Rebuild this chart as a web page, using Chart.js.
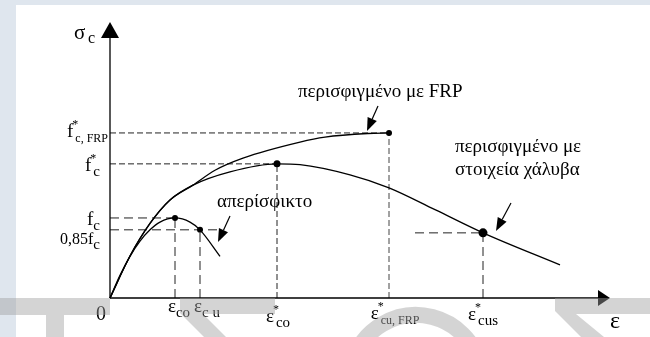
<!DOCTYPE html>
<html>
<head>
<meta charset="utf-8">
<script src="https://cdn.jsdelivr.net/npm/chart.js@4.4.0/dist/chart.umd.min.js"></script>
<style>
  html, body { margin: 0; padding: 0; background: #dfe6ee; }
  canvas { display: block; }
</style>
</head>
<body>
<canvas id="chart" width="650" height="337"></canvas>
<script>
// schematic stress-strain curves (strain ‰, stress MPa)
const unconfinedStrain = [0, 0.2, 0.4, 0.6, 0.8, 1.0, 1.3, 1.6, 1.8, 2.2];
const unconfinedStress = [0, 8.2, 15.1, 20.6, 24.7, 27.5, 29, 27.5, 24.7, 15.1];

const frpStrain = [0, 0.4, 0.8, 1.2, 1.66, 2.1, 2.66, 3.8, 4.3, 5.16, 5.58];
const frpStress = [0, 15.2, 27, 35.5, 40.9, 46.3, 50.7, 56.5, 58.3, 59.6, 59.8];

const steelStrain = [0, 0.4, 0.8, 1.2, 1.66, 2.4, 3.34, 3.8, 4.8, 5.58, 6.5, 7.46, 9.0];
const steelStress = [0, 15.2, 27, 35.5, 40.9, 45.7, 48.6, 48.3, 44.6, 39.9, 32.0, 23.6, 12.0];

// marked points (peaks / ultimate)
const markStrain = [1.3, 1.8, 3.34, 5.58, 7.46];
const markStress = [29, 24.7, 48.6, 59.8, 23.6];
// horizontal guides run from..to (strain) at the mark level
const guideFrom = [0, 0, 0, 0, 6.1];
const guideTo = [1.3, 2.16, 3.34, 5.58, 7.46];

const xTickValues = [0, 1.3, 1.8, 3.34, 5.58, 7.46];
const xTickLabels = ["0", "εco", "εc u", "ε*co", "ε*cu, FRP", "ε*cus"];
const yTickValues = [29, 24.7, 48.6, 59.8];
const yTickLabels = ["fc", "0,85fc", "f*c", "f*c, FRP"];

const notes = [
  { text: "περισφιγμένο με FRP", x: 3.76, y: 72.8 },
  { text: "περισφιγμένο με", x: 6.9, y: 52.9 },
  { text: "στοιχεία χάλυβα", x: 6.9, y: 44.6 },
  { text: "απερίσφικτο", x: 2.14, y: 33.0 },
];
const arrows = [
  { from: [5.36, 69.6], to: [5.14, 60.5] },
  { from: [2.4, 29.7], to: [2.16, 20.3] },
  { from: [8.02, 34.4], to: [7.72, 24.3] },
];

// label nudges in px: [dx, dy]
const xLabelNudge = [[-9, 22], [4, 14], [7, 14], [1, 24], [6, 21], [0, 22]];
const yLabelNudge = [[-10, 7], [-10, 14], [-10, 7], [-2, 4]];

const SERIF = "'Liberation Serif', 'Times New Roman', serif";

const pts = (xs, ys) => xs.map((x, i) => ({ x: x, y: ys[i] }));

const curveStyle = {
  type: "line",
  showLine: true,
  borderColor: "#000",
  borderWidth: 1.3,
  pointRadius: 0,
  cubicInterpolationMode: "monotone",
  fill: false,
  clip: false,
};

const datasets = [
  { ...curveStyle, data: pts(markStrain, markStress), showLine: false,
    pointRadius: [3, 3, 3.5, 3, 4.5], pointBackgroundColor: "#000", pointBorderWidth: 0 },
  { ...curveStyle, data: pts(unconfinedStrain, unconfinedStress) },
  { ...curveStyle, data: pts(frpStrain, frpStress) },
  { ...curveStyle, data: pts(steelStrain, steelStress) },
];

markStrain.forEach((s, i) => {
  const dash = i === 0 || i === 1 || i === 4 ? [9, 5] : [6, 3];
  datasets.push({ ...curveStyle, borderWidth: 1, borderColor: "#222", borderDash: dash,
    cubicInterpolationMode: "default", tension: 0,
    data: [{ x: guideFrom[i], y: markStress[i] }, { x: guideTo[i], y: markStress[i] }] });
  datasets.push({ ...curveStyle, borderWidth: 1, borderColor: i === 3 ? "#444" : "#222", borderDash: dash,
    cubicInterpolationMode: "default", tension: 0,
    data: [{ x: s, y: 0 }, { x: s, y: markStress[i] }] });
});

function splitLabel(str) {
  const m = str.match(/^(.*?[εfσ])(\*?)(.*)$/);
  if (!m) return { base: str, star: "", sub: "" };
  return { base: m[1], star: m[2], sub: m[3] };
}

function labelParts(str) {
  const p = splitLabel(str);
  const baseSize = p.base.length > 1 ? 16 : 19;
  const subSize = p.sub.length > 3 ? 12 : 15;
  return { p, baseSize, subSize };
}

function labelWidth(c, str) {
  const { p, baseSize, subSize } = labelParts(str);
  c.font = baseSize + "px " + SERIF;
  let w = c.measureText(p.base).width;
  if (p.star) w += 2;
  c.font = subSize + "px " + SERIF;
  return w + c.measureText(p.sub).width;
}

function drawLabel(c, str, x, y) {
  const { p, baseSize, subSize } = labelParts(str);
  c.font = baseSize + "px " + SERIF;
  c.fillText(p.base, x, y);
  x += c.measureText(p.base).width;
  if (p.star) {
    c.font = "12px " + SERIF;
    c.fillText("*", x - 1, y - 9);
    x += 2;
  }
  c.font = subSize + "px " + SERIF;
  c.fillText(p.sub, x, y + 5);
}

function arrow(c, x1, y1, x2, y2) {
  const a = Math.atan2(y2 - y1, x2 - x1);
  const len = 13, half = 5;
  const bx = x2 - len * Math.cos(a), by = y2 - len * Math.sin(a);
  c.beginPath();
  c.moveTo(x1, y1);
  c.lineTo(bx, by);
  c.stroke();
  c.beginPath();
  c.moveTo(x2, y2);
  c.lineTo(bx + half * Math.sin(a), by - half * Math.cos(a));
  c.lineTo(bx - half * Math.sin(a), by + half * Math.cos(a));
  c.closePath();
  c.fill();
}

const figure = {
  id: "figure",
  beforeDraw(chart) {
    const c = chart.ctx;
    c.save();
    c.fillStyle = "#dfe6ee";
    c.fillRect(0, 0, chart.width, chart.height);
    c.fillStyle = "#fff";
    c.fillRect(16, 5, chart.width - 16, chart.height - 5);
    c.restore();
  },
  afterDraw(chart) {
    const c = chart.ctx;
    const xs = chart.scales.x, ys = chart.scales.y;
    const x0 = xs.getPixelForValue(0), y0 = ys.getPixelForValue(0);
    const xEnd = xs.getPixelForValue(xs.max), yTop = ys.getPixelForValue(ys.max);
    c.save();
    c.fillStyle = "#000";
    c.strokeStyle = "#000";
    c.lineWidth = 1.3;

    // axes with arrow heads
    c.beginPath();
    c.moveTo(x0, y0);
    c.lineTo(x0, yTop + 16);
    c.moveTo(x0, y0);
    c.lineTo(xEnd - 12, y0);
    c.stroke();
    c.beginPath();
    c.moveTo(x0, yTop);
    c.lineTo(x0 - 9, yTop + 16);
    c.lineTo(x0 + 9, yTop + 16);
    c.closePath();
    c.fill();
    c.beginPath();
    c.moveTo(xEnd, y0);
    c.lineTo(xEnd - 12, y0 - 8);
    c.lineTo(xEnd - 12, y0 + 8);
    c.closePath();
    c.fill();

    // axis titles
    c.font = "21px " + SERIF;
    c.fillText("σ", x0 - 36, yTop + 17);
    c.font = "16px " + SERIF;
    c.fillText("c", x0 - 22, yTop + 21);
    c.font = "24px " + SERIF;
    c.fillText("ε", xEnd, y0 + 30);

    // tick labels
    xTickValues.forEach((v, i) => {
      const lab = xTickLabels[i];
      const px = xs.getPixelForValue(v) + xLabelNudge[i][0];
      if (lab === "0") {
        c.font = "20px " + SERIF;
        c.textAlign = "center";
        c.fillText(lab, px, y0 + xLabelNudge[i][1]);
        c.textAlign = "left";
      } else {
        const w = labelWidth(c, lab);
        drawLabel(c, lab, px - w / 2, y0 + xLabelNudge[i][1]);
      }
    });
    yTickValues.forEach((v, i) => {
      const w = labelWidth(c, yTickLabels[i]);
      const px = x0 + yLabelNudge[i][0];
      drawLabel(c, yTickLabels[i], px - w, ys.getPixelForValue(v) + yLabelNudge[i][1]);
    });

    // annotations
    c.font = "19px " + SERIF;
    notes.forEach(n => c.fillText(n.text, xs.getPixelForValue(n.x), ys.getPixelForValue(n.y)));
    c.lineWidth = 1.2;
    arrows.forEach(a => arrow(c,
      xs.getPixelForValue(a.from[0]), ys.getPixelForValue(a.from[1]),
      xs.getPixelForValue(a.to[0]), ys.getPixelForValue(a.to[1])));

    // faint watermark over the bottom strip
    c.fillStyle = "rgba(160,160,160,0.45)";
    c.strokeStyle = "rgba(160,160,160,0.45)";
    c.fillRect(0, 298, 110, 17);
    c.fillRect(46, 315, 18, 22);
    c.beginPath();
    c.moveTo(180, 298); c.lineTo(275, 298); c.lineTo(275, 314); c.lineTo(203, 314);
    c.lineTo(226, 337); c.lineTo(204, 337); c.lineTo(180, 313);
    c.closePath();
    c.fill();
    c.lineWidth = 16;
    c.beginPath();
    c.arc(416, 381, 66, Math.PI * 1.08, Math.PI * 1.92);
    c.stroke();
    c.beginPath();
    c.moveTo(555, 298); c.lineTo(650, 298); c.lineTo(650, 314); c.lineTo(576, 314);
    c.lineTo(604, 337); c.lineTo(581, 337); c.lineTo(555, 311);
    c.closePath();
    c.fill();
    c.restore();
  },
};

new Chart(document.getElementById("chart"), {
  type: "scatter",
  data: { datasets: datasets },
  options: {
    responsive: false,
    animation: false,
    devicePixelRatio: 1,
    layout: { padding: { left: 110, right: 40, top: 22, bottom: 39 } },
    plugins: { legend: { display: false }, tooltip: { enabled: false } },
    scales: {
      x: { type: "linear", min: 0, max: 10, display: false },
      y: { type: "linear", min: 0, max: 100, display: false },
    },
  },
  plugins: [figure],
});
</script>
</body>
</html>
